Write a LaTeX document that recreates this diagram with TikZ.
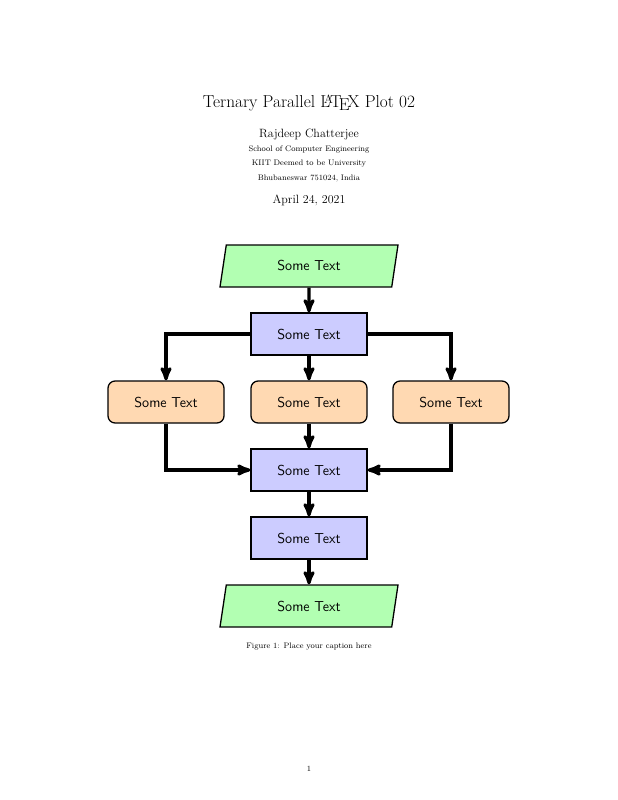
\documentclass[tikz,border=0pt]{standalone}
\usepackage{tikz}
\usetikzlibrary{arrows,shapes.geometric,positioning,calc}
\tikzset{
 io/.style={trapezium, trapezium left angle=70, trapezium right angle=110, trapezium stretches body, draw, line width=1.3pt,
   minimum width=178pt, minimum height=42pt, fill=green!30, font=\sffamily\Large, inner xsep=2pt},
 process/.style={rectangle, draw, line width=1.3pt, minimum width=116pt, minimum height=42pt, fill=blue!20, font=\sffamily\Large},
 startstop/.style={rectangle, rounded corners=2.5mm, draw, line width=1.3pt, minimum width=116pt, minimum height=42pt, fill=orange!30, font=\sffamily\Large},
 flow/.style={->, >=stealth', line width=3.2pt}
}
\begin{document}
\begin{tikzpicture}[x=1pt, y=-1pt]
 \useasboundingbox (0,0) rectangle (618,800);
 % title block
 \node (title) at (309,103) {\LARGE Ternary Parallel \LaTeX{} Plot 02};
 \node (author) at (309,134) {\large Rajdeep Chatterjee};
 \node[font=\footnotesize] (affil1) at (309,150) {School of Computer Engineering};
 \node[font=\footnotesize] (affil2) at (309,164) {KIIT Deemed to be University};
 \node[font=\footnotesize] (affil3) at (309,178) {Bhubaneswar 751024, India};
 \node (date) at (309,200) {\large April 24, 2021};
 % flowchart
 \node[io] (in) at (309,266) {Some Text};
 \node[process] (p1) at (309,334) {Some Text};
 \node[startstop] (s2) at (309,402) {Some Text};
 \node[startstop] (s1) at (166,402) {Some Text};
 \node[startstop] (s3) at (451,402) {Some Text};
 \node[process] (p2) at (309,470) {Some Text};
 \node[process] (p3) at (309,538) {Some Text};
 \node[io] (out) at (309,606) {Some Text};
 \draw[flow] (in) -- (p1);
 \draw[flow] (p1) -- (s2);
 \draw[flow] (p1.west) -| (s1.north);
 \draw[flow] (p1.east) -| (s3.north);
 \draw[flow] (s2) -- (p2);
 \draw[flow] (s1.south) |- (p2.west);
 \draw[flow] (s3.south) |- (p2.east);
 \draw[flow] (p2) -- (p3);
 \draw[flow] (p3) -- (out);
 % caption and page number
 \node[font=\footnotesize] (cap) at (309,647) {Figure 1: Place your caption here};
 \node[font=\footnotesize] (page) at (309,769) {1};
\end{tikzpicture}
\end{document}
